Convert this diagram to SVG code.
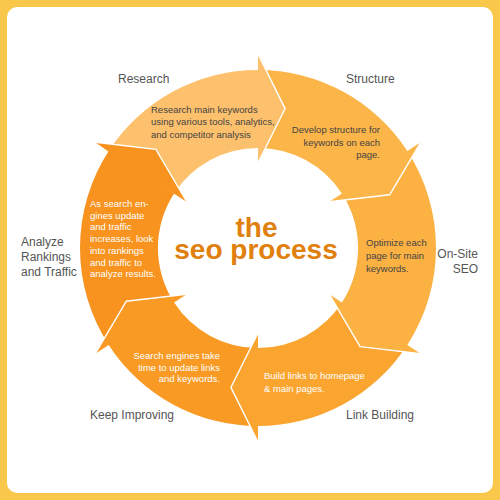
<svg xmlns="http://www.w3.org/2000/svg" width="500" height="500" viewBox="0 0 500 500">
<style>
.lbl{font-family:"Liberation Sans",Arial,sans-serif;font-size:12px;fill:#555}
.in{font-family:"Liberation Sans",Arial,sans-serif;font-size:9.5px}
.dk{fill:#444}
.wt{fill:#fff}
.end{text-anchor:end}
.edge{fill:none;stroke:#fff;stroke-width:1.4;stroke-linejoin:miter}
.title{font-family:"Liberation Sans",Arial,sans-serif;font-weight:bold;font-size:28px;fill:#E0800E;text-anchor:middle}
</style>
<rect x="0" y="0" width="500" height="500" fill="#F9C74A"/>
<rect x="7" y="7" width="486" height="486" rx="10" fill="#fff"/>

<g id="analyze">
<path d="M108.7,344.9 A178,178 0 0 1 108.7,151.1 L95.3,142.3 L155.9,149.4 L186.7,201.7 L174.1,193.5 A100,100 0 0 0 174.1,302.5 Z" fill="#F7931E"/>
<text class="lbl" x="21" y="246">Analyze</text>
<text class="lbl" x="21" y="261">Rankings</text>
<text class="lbl" x="21" y="276">and Traffic</text>
<text class="in wt" x="90" y="207">As search en-</text>
<text class="in wt" x="90" y="218.7">gines update</text>
<text class="in wt" x="90" y="230.4">and traffic</text>
<text class="in wt" x="90" y="242.1">increases, look</text>
<text class="in wt" x="90" y="253.8">into rankings</text>
<text class="in wt" x="90" y="265.5">and traffic to</text>
<text class="in wt" x="90" y="277.2">analyze results.</text>
</g>

<g id="keep-improving">
<path d="M258,426 A178,178 0 0 1 108.7,344.9 L95.3,353.7 L126.3,301.2 L186.7,294.3 L174.1,302.5 A100,100 0 0 0 258,348 Z" fill="#F89A23"/>
<text class="lbl" x="90" y="419">Keep Improving</text>
<text class="in wt end" x="220" y="359">Search engines take</text>
<text class="in wt end" x="220" y="370.5">time to update links</text>
<text class="in wt end" x="220" y="382">and keywords.</text>
</g>

<g id="link-building">
<path d="M407.3,344.9 A178,178 0 0 1 258,426 L258,442 L230.9,387.4 L258,333 L258,348 A100,100 0 0 0 341.9,302.5 Z" fill="#FAA530"/>
<text class="lbl" x="346" y="419">Link Building</text>
<text class="in wt" x="264" y="379">Build links to homepage</text>
<text class="in wt" x="264" y="391.5">&amp; main pages.</text>
</g>

<g id="on-site-seo">
<path d="M407.3,151.1 A178,178 0 0 1 407.3,344.9 L420.7,353.7 L360.1,346.6 L329.3,294.3 L341.9,302.5 A100,100 0 0 0 341.9,193.5 Z" fill="#FCB143"/>
<text class="lbl end" x="478" y="258">On-Site</text>
<text class="lbl end" x="478" y="273">SEO</text>
<text class="in dk" x="366" y="246">Optimize each</text>
<text class="in dk" x="366" y="259">page for main</text>
<text class="in dk" x="366" y="272">keywords.</text>
</g>

<g id="structure">
<path d="M258,70 A178,178 0 0 1 407.3,151.1 L420.7,142.3 L389.7,194.8 L329.3,201.7 L341.9,193.5 A100,100 0 0 0 258,148 Z" fill="#FCB548"/>
<text class="lbl" x="346" y="83">Structure</text>
<text class="in dk end" x="380" y="133">Develop structure for</text>
<text class="in dk end" x="380" y="145.5">keywords on each</text>
<text class="in dk end" x="380" y="158">page.</text>
</g>

<g id="research">
<path d="M108.7,151.1 A178,178 0 0 1 258,70 L258,54 L285.1,108.6 L258,163 L258,148 A100,100 0 0 0 174.1,193.5 Z" fill="#FDC06C"/>
<text class="lbl" x="118" y="83">Research</text>
<text class="in dk" x="151" y="112.5">Research main keywords</text>
<text class="in dk" x="151" y="125">using various tools, analytics,</text>
<text class="in dk" x="151" y="137.5">and competitor analysis</text>
</g>

<g id="connectors">
<path d="M95.3,142.3 L155.9,149.4 L186.7,201.7 L176,194.7 L107,150.5 Z" fill="#F7931E"/>
<polyline class="edge" points="258,54 285.1,108.6 258,163"/>
<polyline class="edge" points="420.7,142.3 389.7,194.8 329.3,201.7"/>
<polyline class="edge" points="420.7,353.7 360.1,346.6 329.3,294.3"/>
<polyline class="edge" points="258,442 230.9,387.4 258,333"/>
<polyline class="edge" points="95.3,353.7 126.3,301.2 186.7,294.3"/>
<polyline class="edge" points="95.3,142.3 155.9,149.4 186.7,201.7"/>
</g>

<g id="center">
<text class="title" x="256.5" y="237">the</text>
<text class="title" x="256" y="259">seo process</text>
</g>
</svg>
